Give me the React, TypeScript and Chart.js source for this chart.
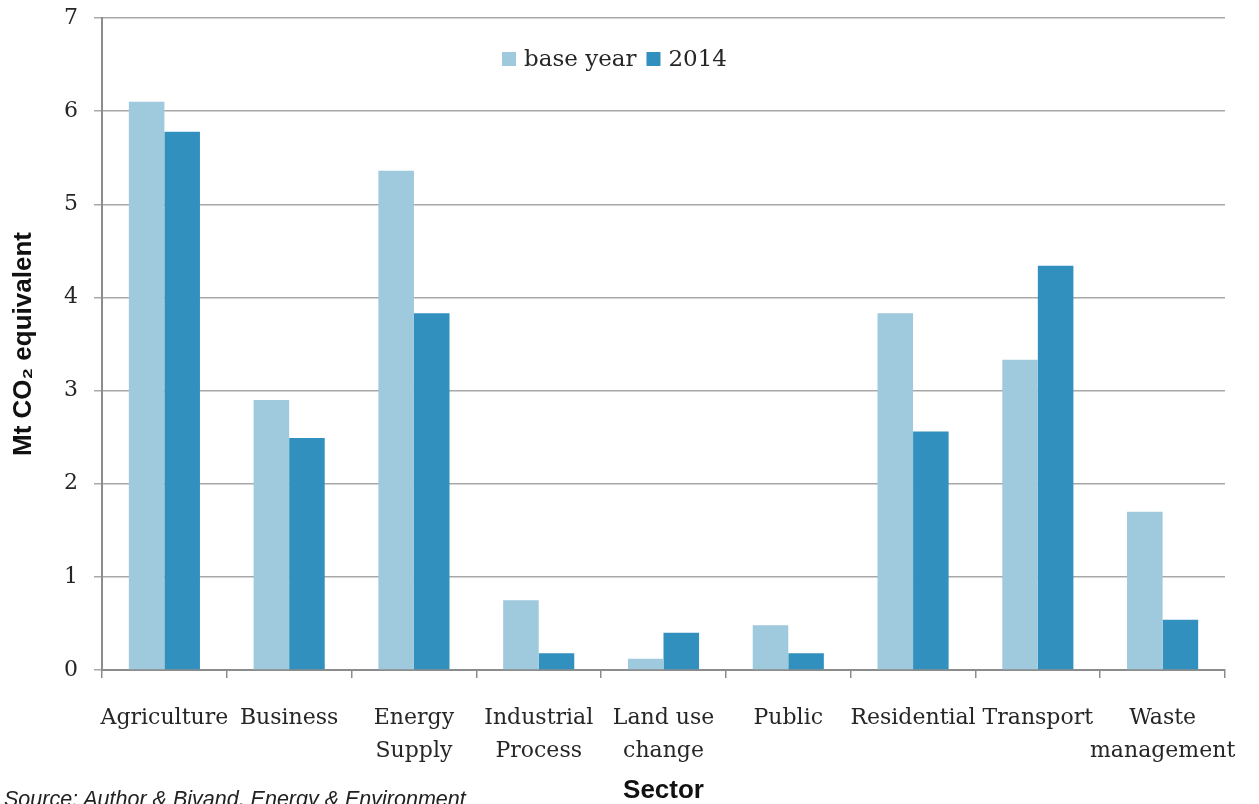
import React, { useEffect, useRef } from "react";
import { Chart, registerables } from "chart.js";

Chart.register(...registerables);

const categories: string[][] = [
  ["Agriculture"],
  ["Business"],
  ["Energy", "Supply"],
  ["Industrial", "Process"],
  ["Land use", "change"],
  ["Public"],
  ["Residential"],
  ["Transport"],
  ["Waste", "management"],
];
const seriesLabels = ["base year", "2014"];
const baseYear = [6.1, 2.9, 5.36, 0.75, 0.12, 0.48, 3.83, 3.33, 1.7];
const year2014 = [5.78, 2.49, 3.83, 0.18, 0.4, 0.18, 2.56, 4.34, 0.54];
const yMin = 0;
const yMax = 7;
const yStep = 1;
const yTitle = "Mt CO\u2082 equivalent";
const xTitle = "Sector";
const sourceNote = "Source: Author & Bivand, Energy & Environment";

const LIGHT = "#9fc9dd";
const DARK = "#3190be";
const TEXT = "#262626";
const SERIF = '"DejaVu Serif", "Liberation Serif", serif';
const SANS = '"Liberation Sans", Arial, sans-serif';

const insideLegend = {
  id: "insideLegend",
  afterDraw(chart: any) {
    const ctx = chart.ctx;
    const area = chart.chartArea;
    ctx.save();
    ctx.font = `23px ${SERIF}`;
    ctx.textBaseline = "middle";
    ctx.textAlign = "left";
    let x = area.left + 400;
    const y = area.top + 42;
    chart.data.datasets.forEach((ds: any) => {
      ctx.fillStyle = ds.backgroundColor;
      ctx.fillRect(x, y - 8, 14, 14);
      x += 22;
      ctx.fillStyle = TEXT;
      ctx.fillText(ds.label, x, y);
      x += ctx.measureText(ds.label).width + 10;
    });
    ctx.restore();
  },
};

export default function App() {
  const ref = useRef<HTMLCanvasElement | null>(null);

  useEffect(() => {
    if (!ref.current) return;
    const chart = new Chart(ref.current, {
      type: "bar",
      data: {
        labels: categories,
        datasets: [
          { label: seriesLabels[0], data: baseYear, backgroundColor: LIGHT, borderWidth: 0 },
          { label: seriesLabels[1], data: year2014, backgroundColor: DARK, borderWidth: 0 },
        ],
      },
      plugins: [insideLegend],
      options: {
        responsive: false,
        animation: false,
        events: [],
        layout: { padding: { left: 0, right: 34, top: 18, bottom: 0 } },
        datasets: {
          bar: { categoryPercentage: 0.57, barPercentage: 1 },
        },
        plugins: {
          legend: { display: false },
          tooltip: { enabled: false },
          title: { display: false },
        },
        scales: {
          x: {
            grid: {
              offset: true,
              drawOnChartArea: false,
              drawTicks: true,
              tickLength: 8,
              color: "#8c8c8c",
              lineWidth: 1.5,
            },
            border: { display: true, color: "#8c8c8c", width: 2 },
            ticks: {
              color: TEXT,
              font: { family: SERIF, size: 22, lineHeight: 1.5 },
              padding: 24,
              maxRotation: 0,
              autoSkip: false,
            },
            title: {
              display: true,
              text: xTitle,
              color: "#111111",
              font: { family: SANS, size: 26, weight: "bold", lineHeight: 1.0 },
              padding: { top: 0, bottom: 0 },
            },
            afterFit(scale: any) {
              scale.height = 134;
              scale.paddingLeft = 0;
              scale.paddingRight = 0;
            },
          },
          y: {
            min: yMin,
            max: yMax,
            ticks: {
              stepSize: yStep,
              color: TEXT,
              font: { family: SERIF, size: 22 },
              padding: 16,
            },
            grid: {
              color: "#a8a8a8",
              lineWidth: 1.5,
              drawTicks: true,
              tickLength: 8,
            },
            border: { display: true, color: "#8c8c8c", width: 2 },
            title: {
              display: true,
              text: yTitle,
              color: "#111111",
              font: { family: SANS, size: 26, weight: "bold", lineHeight: 1.2 },
              padding: { top: 8, bottom: 0 },
            },
            afterFit(scale: any) {
              scale.width = 102;
              scale.paddingTop = 0;
              scale.paddingBottom = 0;
            },
          },
        },
      } as any,
    });
    return () => chart.destroy();
  }, []);

  return (
    <div
      style={{
        position: "fixed",
        left: 0,
        top: 0,
        width: 1259,
        height: 804,
        overflow: "hidden",
        background: "#ffffff",
      }}
    >
      <canvas ref={ref} width={1259} height={804} style={{ display: "block" }} />
      <div
        style={{
          position: "absolute",
          left: 4,
          top: 787,
          fontFamily: SANS,
          fontStyle: "italic",
          fontSize: 21.5,
          lineHeight: "24px",
          color: "#222222",
          whiteSpace: "nowrap",
        }}
      >
        {sourceNote}
      </div>
    </div>
  );
}
